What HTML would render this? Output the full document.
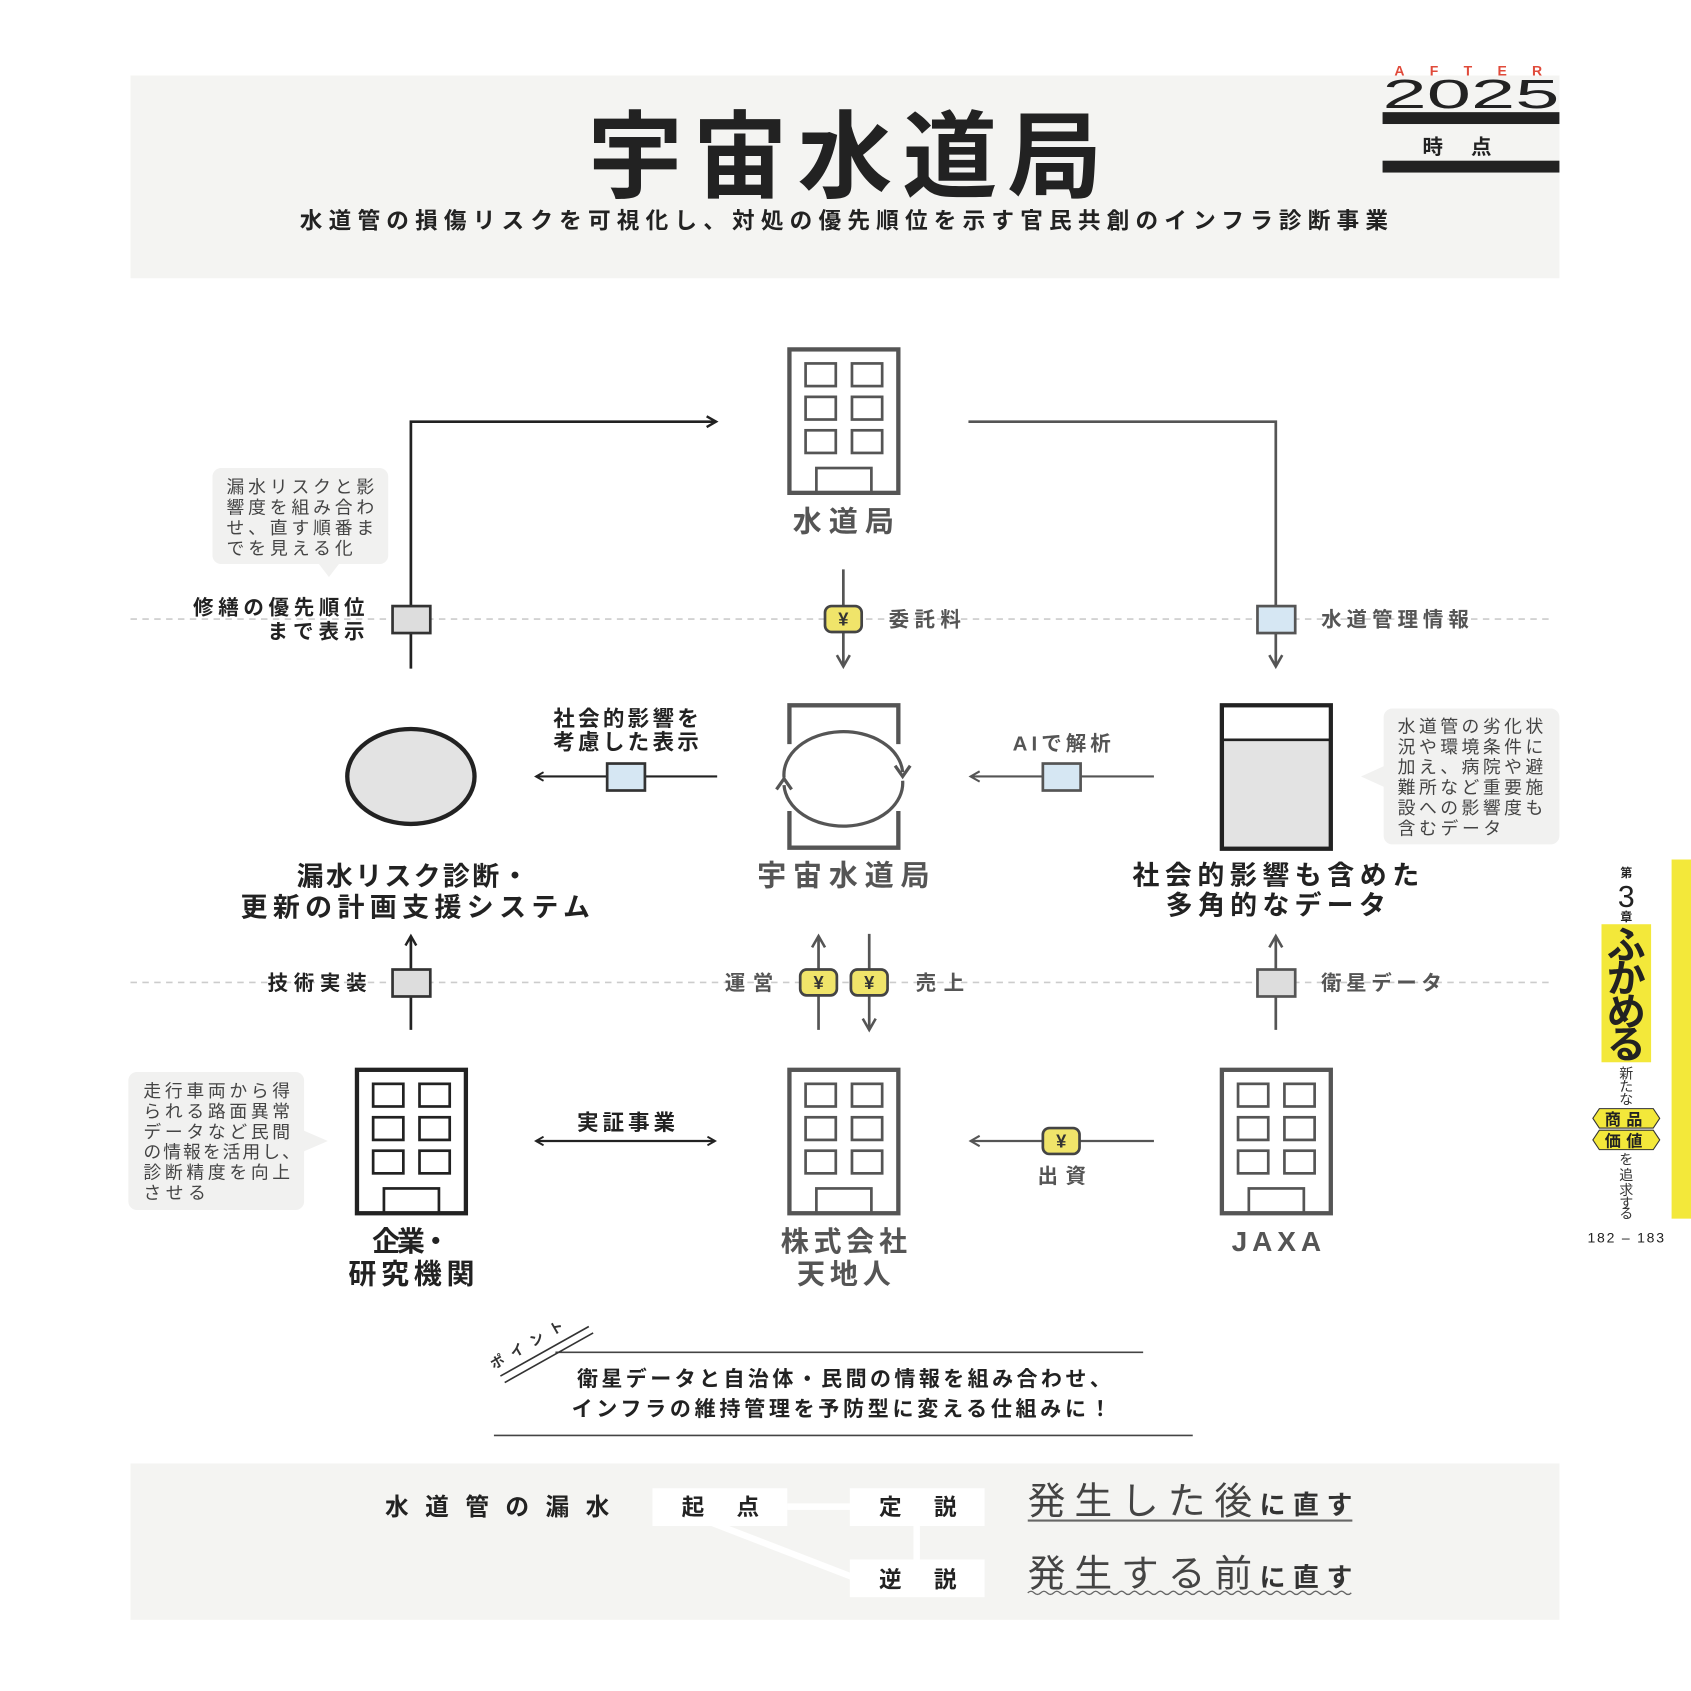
<!DOCTYPE html>
<html><head><meta charset="utf-8"><style>
html,body{margin:0;padding:0;background:#fff;width:1691px;height:1691px;overflow:hidden}
svg{display:block}
text{font-family:"Liberation Sans","Noto Sans CJK JP",sans-serif}
</style></head><body>
<svg width="1691" height="1691" viewBox="0 0 1568 1568" xmlns="http://www.w3.org/2000/svg">
<defs>
<marker id="ab" viewBox="0 0 10 10" refX="8" refY="5" markerWidth="5" markerHeight="5" orient="auto-start-reverse"><path d="M1,1 L8,5 L1,9" fill="none" stroke="#222" stroke-width="1.8"/></marker>
<marker id="ag" viewBox="0 0 10 10" refX="8" refY="5" markerWidth="6" markerHeight="6" orient="auto-start-reverse"><path d="M1,1 L8,5 L1,9" fill="none" stroke="#555" stroke-width="1.6"/></marker>
<g id="bld">
<rect x="2" y="2" width="101" height="133" fill="#fff" stroke-width="4"/>
<rect x="17" y="15" width="28" height="21" fill="none" stroke-width="2.5"/><rect x="60" y="15" width="28" height="21" fill="none" stroke-width="2.5"/>
<rect x="17" y="46" width="28" height="21" fill="none" stroke-width="2.5"/><rect x="60" y="46" width="28" height="21" fill="none" stroke-width="2.5"/>
<rect x="17" y="77" width="28" height="21" fill="none" stroke-width="2.5"/><rect x="60" y="77" width="28" height="21" fill="none" stroke-width="2.5"/>
<rect x="27" y="112" width="51" height="23" fill="none" stroke-width="2.5"/>
</g>
<g id="yen"><rect x="-17" y="-12" width="34" height="24" rx="6" fill="#f0e46a" stroke="#444" stroke-width="2.5"/><text x="0" y="6" font-size="17" font-weight="bold" text-anchor="middle" fill="#333">¥</text></g>
</defs>

<rect x="121" y="70" width="1325" height="188" fill="#f4f4f2"/>
<text x="545" y="176" font-size="88" font-weight="bold" fill="#222" textLength="477" lengthAdjust="spacing">宇宙水道局</text>
<text x="278" y="212" font-size="21" font-weight="bold" fill="#222" textLength="1009" lengthAdjust="spacing">水道管の損傷リスクを可視化し、対処の優先順位を示す官民共創のインフラ診断事業</text>
<text x="1293" y="70" font-size="13" font-weight="bold" fill="#e04a3a" textLength="137" lengthAdjust="spacing">AFTER</text>
<text x="1282" y="100" font-size="38" fill="#222" textLength="164" lengthAdjust="spacingAndGlyphs">2025</text>
<rect x="1282" y="104" width="164" height="11" fill="#222"/>
<text x="1364" y="143" font-size="19" font-weight="bold" fill="#222" text-anchor="middle" letter-spacing="26">時点</text>
<rect x="1282" y="149" width="164" height="11" fill="#222"/>

<line x1="121" y1="574" x2="1440" y2="574" stroke="#ccc" stroke-width="1.5" stroke-dasharray="6,5"/>
<line x1="121" y1="911" x2="1440" y2="911" stroke="#ccc" stroke-width="1.5" stroke-dasharray="6,5"/>

<use href="#bld" x="730" y="322" stroke="#555"/>
<text x="735" y="493" font-size="27" font-weight="bold" fill="#555" textLength="94" lengthAdjust="spacing">水道局</text>

<path d="M381,620 L381,391 L664,391" fill="none" stroke="#222" stroke-width="2.5" marker-end="url(#ab)"/>
<rect x="364" y="562" width="35" height="25" fill="#ddd" stroke="#333" stroke-width="2.5"/>
<text x="179" y="570" font-size="19" font-weight="bold" fill="#222" textLength="159" lengthAdjust="spacing">修繕の優先順位</text>
<text x="248" y="592" font-size="19" font-weight="bold" fill="#222" textLength="90" lengthAdjust="spacing">まで表示</text>
<path d="M898,391 L1183,391 L1183,618" fill="none" stroke="#555" stroke-width="2.5" marker-end="url(#ag)"/>
<rect x="1166" y="562" width="35" height="25" fill="#d6e7f3" stroke="#555" stroke-width="2.5"/>
<text x="1225" y="581" font-size="19" font-weight="bold" fill="#555" textLength="137" lengthAdjust="spacing">水道管理情報</text>
<line x1="782" y1="528" x2="782" y2="618" stroke="#555" stroke-width="2.5" marker-end="url(#ag)"/>
<use href="#yen" x="782" y="574"/>
<text x="824" y="581" font-size="19" font-weight="bold" fill="#555" textLength="67" lengthAdjust="spacing">委託料</text>

<rect x="197" y="434" width="163" height="89" rx="8" fill="#f1f1f0"/>
<path d="M295,522 L315,522 L305,535 Z" fill="#f1f1f0"/>
<g font-size="16.5" fill="#444">
<text x="210" y="457" textLength="137" lengthAdjust="spacing">漏水リスクと影</text><text x="210" y="476" textLength="137" lengthAdjust="spacing">響度を組み合わ</text><text x="210" y="495" textLength="137" lengthAdjust="spacing">せ、直す順番ま</text><text x="210" y="514" textLength="117" lengthAdjust="spacing">でを見える化</text></g>

<ellipse cx="381" cy="720" rx="59" ry="44" fill="#e3e3e3" stroke="#222" stroke-width="4"/>
<line x1="665" y1="720" x2="497" y2="720" stroke="#222" stroke-width="2" marker-end="url(#ab)"/>
<rect x="563" y="708" width="35" height="25" fill="#d6e7f3" stroke="#333" stroke-width="2.5"/>
<text x="513" y="673" font-size="20" font-weight="bold" fill="#222" textLength="135" lengthAdjust="spacing">社会的影響を</text>
<text x="513" y="695" font-size="20" font-weight="bold" fill="#222" textLength="135" lengthAdjust="spacing">考慮した表示</text>

<path d="M732,690 L732,654 L833,654 L833,690 M732,752 L732,786 L833,786 L833,752" fill="none" stroke="#555" stroke-width="4"/>
<path d="M727,721 A55,40 0 0 1 837,716" fill="none" stroke="#555" stroke-width="3"/>
<path d="M837,724 A55,40 0 0 1 727,728" fill="none" stroke="#555" stroke-width="3"/>
<path d="M830,710 L837,720 L844,710" fill="none" stroke="#555" stroke-width="3"/>
<path d="M720,732 L727,722 L734,732" fill="none" stroke="#555" stroke-width="3"/>
<text x="702" y="821" font-size="27" font-weight="bold" fill="#555" textLength="160" lengthAdjust="spacing">宇宙水道局</text>

<line x1="1070" y1="720" x2="900" y2="720" stroke="#555" stroke-width="2" marker-end="url(#ag)"/>
<rect x="967" y="708" width="35" height="25" fill="#d6e7f3" stroke="#555" stroke-width="2.5"/>
<text x="939" y="696" font-size="19" font-weight="bold" fill="#555" textLength="91" lengthAdjust="spacing">AIで解析</text>

<rect x="1133" y="654" width="101" height="133" fill="#e3e3e3" stroke="#222" stroke-width="4"/>
<rect x="1135" y="656" width="97" height="30" fill="#fff"/>
<line x1="1133" y1="686" x2="1234" y2="686" stroke="#222" stroke-width="2.5"/>

<rect x="1283" y="657" width="163" height="126" rx="8" fill="#f1f1f0"/>
<path d="M1284,710 L1284,730 L1262,720 Z" fill="#f1f1f0"/>
<g font-size="16.5" fill="#444">
<text x="1296" y="679" textLength="135" lengthAdjust="spacing">水道管の劣化状</text><text x="1296" y="698" textLength="135" lengthAdjust="spacing">況や環境条件に</text><text x="1296" y="717" textLength="135" lengthAdjust="spacing">加え、病院や避</text><text x="1296" y="736" textLength="135" lengthAdjust="spacing">難所など重要施</text><text x="1296" y="755" textLength="135" lengthAdjust="spacing">設への影響度も</text><text x="1296" y="774" textLength="96" lengthAdjust="spacing">含むデータ</text></g>

<g font-size="25" font-weight="bold" fill="#222">
<text x="275" y="821" textLength="215" lengthAdjust="spacing">漏水リスク診断・</text><text x="223" y="850" textLength="324" lengthAdjust="spacing">更新の計画支援システム</text>
<text x="1050" y="820" textLength="266" lengthAdjust="spacing">社会的影響も含めた</text><text x="1081" y="848" textLength="204" lengthAdjust="spacing">多角的なデータ</text></g>

<line x1="381" y1="955" x2="381" y2="868" stroke="#222" stroke-width="2.5" marker-end="url(#ab)"/>
<rect x="364" y="899" width="35" height="25" fill="#ddd" stroke="#333" stroke-width="2.5"/>
<text x="248" y="918" font-size="19" font-weight="bold" fill="#222" textLength="92" lengthAdjust="spacing">技術実装</text>
<line x1="759" y1="955" x2="759" y2="868" stroke="#555" stroke-width="2.5" marker-end="url(#ag)"/>
<line x1="806" y1="866" x2="806" y2="955" stroke="#555" stroke-width="2.5" marker-end="url(#ag)"/>
<use href="#yen" x="759" y="911"/><use href="#yen" x="806" y="911"/>
<text x="672" y="918" font-size="19" font-weight="bold" fill="#555" textLength="45" lengthAdjust="spacing">運営</text>
<text x="849" y="918" font-size="19" font-weight="bold" fill="#555" textLength="45" lengthAdjust="spacing">売上</text>
<line x1="1183" y1="955" x2="1183" y2="868" stroke="#555" stroke-width="2.5" marker-end="url(#ag)"/>
<rect x="1166" y="899" width="35" height="25" fill="#ddd" stroke="#555" stroke-width="2.5"/>
<text x="1225" y="918" font-size="19" font-weight="bold" fill="#555" textLength="112" lengthAdjust="spacing">衛星データ</text>

<use href="#bld" x="329" y="990" stroke="#222"/>
<use href="#bld" x="730" y="990" stroke="#555"/>
<use href="#bld" x="1131" y="990" stroke="#555"/>
<g font-size="26" font-weight="bold">
<text x="345" y="1160" fill="#222" textLength="72" lengthAdjust="spacing">企業・</text><text x="323" y="1190" fill="#222" textLength="117" lengthAdjust="spacing">研究機関</text>
<text x="724" y="1160" fill="#555" textLength="117" lengthAdjust="spacing">株式会社</text><text x="739" y="1190" fill="#555" textLength="87" lengthAdjust="spacing">天地人</text>
<text x="1142" y="1160" fill="#555" textLength="83" lengthAdjust="spacing">JAXA</text></g>

<line x1="497" y1="1058" x2="663" y2="1058" stroke="#222" stroke-width="2" marker-start="url(#ab)" marker-end="url(#ab)"/>
<text x="535" y="1048" font-size="20" font-weight="bold" fill="#222" textLength="91" lengthAdjust="spacing">実証事業</text>
<line x1="1070" y1="1058" x2="900" y2="1058" stroke="#555" stroke-width="2" marker-end="url(#ag)"/>
<use href="#yen" x="984" y="1058"/>
<text x="962" y="1097" font-size="19" font-weight="bold" fill="#555" textLength="45" lengthAdjust="spacing">出資</text>

<rect x="119" y="994" width="163" height="128" rx="8" fill="#f1f1f0"/>
<path d="M281,1048 L281,1068 L304,1058 Z" fill="#f1f1f0"/>
<g font-size="16.5" fill="#444">
<text x="133" y="1017" textLength="136" lengthAdjust="spacing">走行車両から得</text><text x="133" y="1036" textLength="136" lengthAdjust="spacing">られる路面異常</text><text x="133" y="1055" textLength="136" lengthAdjust="spacing">データなど民間</text><text x="133" y="1074" textLength="145" lengthAdjust="spacing">の情報を活用し、</text><text x="133" y="1093" textLength="136" lengthAdjust="spacing">診断精度を向上</text><text x="133" y="1112" textLength="58" lengthAdjust="spacing">させる</text></g>

<line x1="515" y1="1254" x2="1060" y2="1254" stroke="#444" stroke-width="1.5"/>
<line x1="458" y1="1331" x2="1106" y2="1331" stroke="#444" stroke-width="1.5"/>
<line x1="464" y1="1276" x2="546" y2="1230" stroke="#333" stroke-width="1.5"/>
<line x1="468" y1="1282" x2="550" y2="1236" stroke="#333" stroke-width="1.5"/>
<text x="0" y="0" font-size="13" font-weight="bold" fill="#333" letter-spacing="8" transform="translate(458,1270) rotate(-30)">ポイント</text>
<text x="535" y="1285" font-size="19.5" font-weight="bold" fill="#222" textLength="495" lengthAdjust="spacing">衛星データと自治体・民間の情報を組み合わせ、</text>
<text x="530" y="1313" font-size="19.5" font-weight="bold" fill="#222" textLength="500" lengthAdjust="spacing">インフラの維持管理を予防型に変える仕組みに！</text>

<rect x="121" y="1357" width="1325" height="145" fill="#f4f4f2"/>
<text x="357" y="1405" font-size="22" font-weight="bold" fill="#222" textLength="208" lengthAdjust="spacing">水道管の漏水</text>
<line x1="730" y1="1397" x2="790" y2="1397" stroke="#fff" stroke-width="6"/>
<line x1="850" y1="1414" x2="850" y2="1448" stroke="#fff" stroke-width="6"/>
<line x1="660" y1="1412" x2="800" y2="1466" stroke="#fff" stroke-width="6"/>
<rect x="605" y="1380" width="125" height="35" fill="#fff"/>
<rect x="788" y="1380" width="125" height="35" fill="#fff"/>
<rect x="788" y="1446" width="125" height="35" fill="#fff"/>
<g font-size="21" font-weight="bold" fill="#222" text-anchor="middle" letter-spacing="30">
<text x="683" y="1405">起点</text><text x="866" y="1405">定説</text><text x="866" y="1472">逆説</text></g>
<text x="953" y="1404" font-size="35" fill="#444" textLength="208" lengthAdjust="spacing">発生した後</text>
<text x="1168" y="1404" font-size="24" font-weight="bold" fill="#333" textLength="86" lengthAdjust="spacing">に直す</text>
<line x1="953" y1="1410" x2="1254" y2="1410" stroke="#666" stroke-width="2"/>
<text x="953" y="1471" font-size="35" fill="#444" textLength="208" lengthAdjust="spacing">発生する前</text>
<text x="1168" y="1471" font-size="24" font-weight="bold" fill="#333" textLength="86" lengthAdjust="spacing">に直す</text>
<path d="M953,1477 q3,-3 6,0 t6,0 t6,0 t6,0 t6,0 t6,0 t6,0 t6,0 t6,0 t6,0 t6,0 t6,0 t6,0 t6,0 t6,0 t6,0 t6,0 t6,0 t6,0 t6,0 t6,0 t6,0 t6,0 t6,0 t6,0 t6,0 t6,0 t6,0 t6,0 t6,0 t6,0 t6,0 t6,0 t6,0 t6,0 t6,0 t6,0 t6,0 t6,0 t6,0 t6,0 t6,0 t6,0 t6,0 t6,0 t6,0 t6,0 t6,0 t6,0 t6,0" fill="none" stroke="#666" stroke-width="1.2"/>

<rect x="1550" y="797" width="18" height="333" fill="#f3e83a"/>
<text x="1508" y="813" font-size="11" font-weight="bold" fill="#222" text-anchor="middle">第</text>
<text x="1508" y="841" font-size="28" fill="#222" text-anchor="middle">3</text>
<text x="1508" y="854" font-size="11" font-weight="bold" fill="#222" text-anchor="middle">章</text>
<rect x="1485" y="857" width="46" height="128" fill="#f3e83a"/>
<g font-size="36" font-weight="bold" fill="#222" text-anchor="middle">
<text x="1508" y="889">ふ</text><text x="1508" y="920">か</text><text x="1508" y="951">め</text><text x="1508" y="981">る</text></g>
<g font-size="13" fill="#333" text-anchor="middle"><text x="1508" y="1000">新</text><text x="1508" y="1012">た</text><text x="1508" y="1024">な</text></g>
<path d="M1477,1037 L1483,1028 L1533,1028 L1539,1037 L1533,1046 L1483,1046 Z" fill="#f3e83a" stroke="#333" stroke-width="1"/>
<path d="M1477,1057 L1483,1048 L1533,1048 L1539,1057 L1533,1066 L1483,1066 Z" fill="#f3e83a" stroke="#333" stroke-width="1"/>
<text x="1508" y="1043" font-size="15" font-weight="bold" fill="#222" text-anchor="middle" letter-spacing="5">商品</text>
<text x="1508" y="1063" font-size="15" font-weight="bold" fill="#222" text-anchor="middle" letter-spacing="5">価値</text>
<g font-size="13" fill="#333" text-anchor="middle"><text x="1508" y="1080">を</text><text x="1508" y="1094">追</text><text x="1508" y="1108">求</text><text x="1508" y="1120">す</text><text x="1508" y="1130">る</text></g>
<text x="1472" y="1152" font-size="13" fill="#222" textLength="71" lengthAdjust="spacing">182 – 183</text>
</svg>
</body></html>
